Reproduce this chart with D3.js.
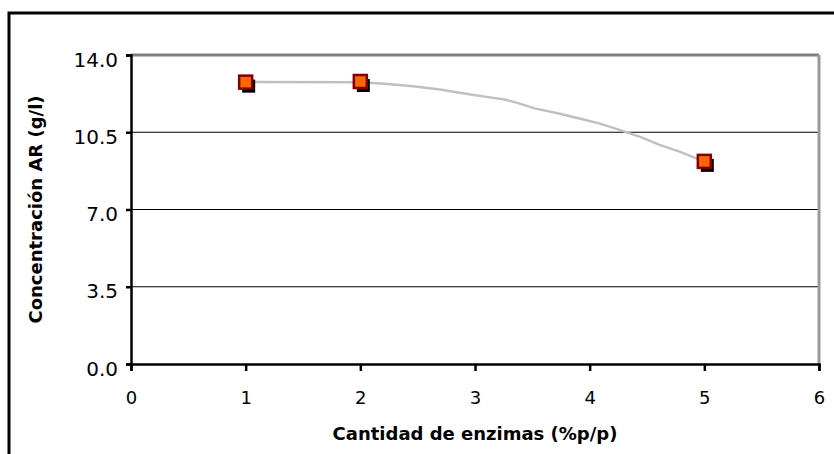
<!DOCTYPE html>
<html>
<head>
<meta charset="utf-8">
<script src="https://cdn.jsdelivr.net/npm/d3@7"></script>
<style>
  body { margin: 0; background: #fff; }
  text { font-family: "DejaVu Sans", Verdana, sans-serif; }
</style>
</head>
<body>
<div id="vis"></div>
<script>
// measured points
const enzimas = [1, 2, 5]
const concentracion = [12.77, 12.8, 9.18]

// gray trend curve
const trendX = [1, 2, 2.21, 2.46, 2.71, 2.84, 2.99, 3.13, 3.26, 3.37, 3.52, 3.74, 3.92, 4.09, 4.26, 4.44, 4.61, 4.79, 5]
const trendY = [12.78, 12.77, 12.7, 12.58, 12.43, 12.31, 12.19, 12.08, 11.98, 11.83, 11.58, 11.34, 11.11, 10.89, 10.61, 10.29, 9.93, 9.61, 9.17]

const xTicks = [0, 1, 2, 3, 4, 5, 6]
const yTicks = [0, 3.5, 7, 10.5, 14]

const W = 834, H = 454
const margin = { left: 131, top: 55, right: 15, bottom: 90 }

const svg = d3.select('#vis').append('svg')
  .attr('width', W)
  .attr('height', H)

// outer frame (bottom and right run off the picture)
svg.append('rect')
  .attr('x', 9).attr('y', 13)
  .attr('width', 840).attr('height', 460)
  .attr('fill', 'none')
  .attr('stroke', '#000')
  .attr('stroke-width', 3)

const x = d3.scaleLinear().domain([0, 6]).range([margin.left, W - margin.right])
const y = d3.scaleLinear().domain([0, 14]).range([H - margin.bottom, margin.top])

// gridlines
svg.selectAll('.grid')
  .data(yTicks.filter(d => d > 0 && d < 14))
  .enter().append('line')
  .attr('class', 'grid')
  .attr('x1', x(0)).attr('x2', x(6))
  .attr('y1', d => y(d)).attr('y2', d => y(d))
  .attr('stroke', '#000').attr('stroke-width', 1.2)

// gray top and right plot edges
svg.append('line')
  .attr('x1', x(0)).attr('x2', x(6))
  .attr('y1', y(14)).attr('y2', y(14))
  .attr('stroke', '#808080').attr('stroke-width', 3)
svg.append('line')
  .attr('x1', x(6)).attr('x2', x(6))
  .attr('y1', y(14)).attr('y2', y(0))
  .attr('stroke', '#999').attr('stroke-width', 3)

// axes
const xAxis = svg.append('g')
  .attr('transform', `translate(0,${y(0)})`)
  .call(d3.axisBottom(x).tickValues(xTicks).tickSize(7).tickPadding(20).tickFormat(d3.format('d')))
xAxis.select('.domain').attr('stroke-width', 2.5)
xAxis.selectAll('line').attr('stroke-width', 2.5)
xAxis.selectAll('text').attr('font-size', 18).attr('fill', '#000')

const yAxis = svg.append('g')
  .attr('transform', `translate(${x(0)},0)`)
  .call(d3.axisLeft(y).tickValues(yTicks).tickSize(5).tickPadding(8).tickFormat(d3.format('.1f')))
yAxis.select('.domain').attr('stroke-width', 2.5)
yAxis.selectAll('line').attr('stroke-width', 2.5)
yAxis.selectAll('text').attr('font-size', 20).attr('fill', '#000').attr('dy', '0.55em')

// trend line
const trend = trendX.map((d, i) => [d, trendY[i]])
svg.append('path')
  .datum(trend)
  .attr('fill', 'none')
  .attr('stroke', '#c0c0c0')
  .attr('stroke-width', 2.5)
  .attr('d', d3.line().x(d => x(d[0])).y(d => y(d[1])))

// markers with shadow
const pts = enzimas.map((d, i) => ({ x: d, y: concentracion[i] }))
const s = 13
svg.selectAll('.shadow')
  .data(pts).enter().append('rect')
  .attr('class', 'shadow')
  .attr('x', d => x(d.x) - s / 2 + 3)
  .attr('y', d => y(d.y) - s / 2 + 4)
  .attr('width', s).attr('height', s)
  .attr('fill', '#000')
svg.selectAll('.marker')
  .data(pts).enter().append('rect')
  .attr('class', 'marker')
  .attr('x', d => x(d.x) - s / 2)
  .attr('y', d => y(d.y) - s / 2)
  .attr('width', s).attr('height', s)
  .attr('fill', '#ff6600')
  .attr('stroke', '#800000')
  .attr('stroke-width', 2.5)

// axis titles
svg.append('text')
  .attr('x', (x(0) + x(6)) / 2)
  .attr('y', 440)
  .attr('text-anchor', 'middle')
  .attr('font-size', 18)
  .attr('font-weight', 'bold')
  .text('Cantidad de enzimas (%p/p)')

svg.append('text')
  .attr('transform', `translate(42,${(y(0) + y(14)) / 2}) rotate(-90)`)
  .attr('text-anchor', 'middle')
  .attr('font-size', 18)
  .attr('font-weight', 'bold')
  .text('Concentración AR (g/l)')
</script>
</body>
</html>
